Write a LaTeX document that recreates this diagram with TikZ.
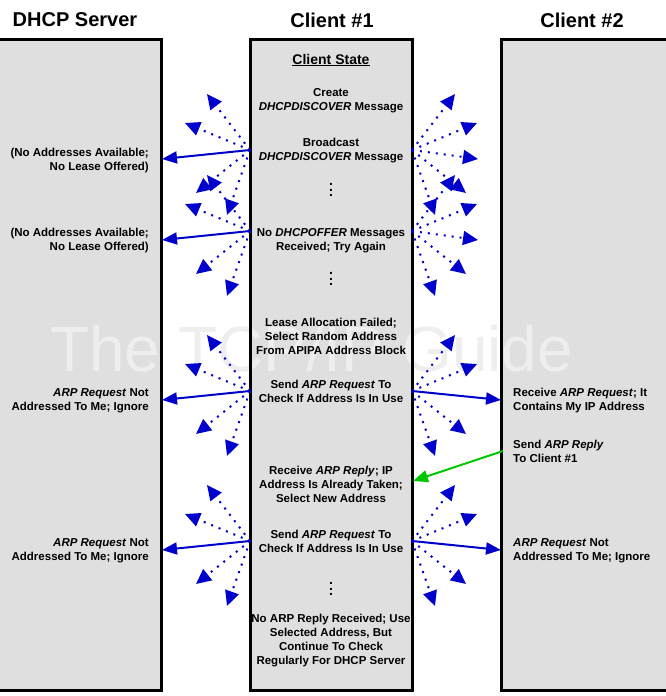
\documentclass[tikz,border=0pt]{standalone}
\usepackage{fontspec}
\setmainfont{Liberation Sans}
\usetikzlibrary{arrows.meta}
\definecolor{boxgray}{RGB}{223,223,223}
\definecolor{arrblue}{RGB}{0,0,204}
\definecolor{arrgreen}{RGB}{0,200,0}
\definecolor{wmark}{RGB}{238,238,238}
\newcommand\vdotsx{{\fontsize{14}{14}\selectfont\vbox{\baselineskip5.5pt\lineskiplimit-10pt\hbox{.}\hbox{.}\hbox{.}}}}
\begin{document}
\begin{tikzpicture}[x=1pt,y=-1pt,
  colfill/.style={fill=boxgray,inner sep=0,minimum height=650pt},
  boxline/.style={draw=black,line width=3pt},
  hdr/.style={font=\bfseries\fontsize{20}{24}\selectfont,inner sep=0},
  txt/.style={font=\bfseries\fontsize{11.5}{14}\selectfont,inner sep=0,align=center},
  srv/.style={txt,align=right,anchor=east},
  cltwo/.style={txt,align=left,anchor=west},
  solidarr/.style={draw=arrblue,line width=2pt,-{Triangle[length=15pt,width=12pt]}},
  dotarr/.style={draw=arrblue,line width=2pt,dash pattern=on 2pt off 6pt,-{Triangle[length=15pt,width=14pt]}},
  greenarr/.style={draw=arrgreen,line width=2pt,-{Triangle[length=15pt,width=12pt]}},
]
\useasboundingbox (0,0) rectangle (666,696);
\fill[white] (0,0) rectangle (666,696);
% columns
\node[colfill,minimum width=166pt] (srvbox) at (78,365) {};
\node[colfill,minimum width=161pt] (clonebox) at (331.5,365) {};
\node[colfill,minimum width=169pt] (cltwobox) at (586.5,365) {};
% watermark
\node[anchor=base west,inner sep=0,font=\fontsize{64}{64}\selectfont,text=wmark] (wm) at (50,371) {The TCP/IP Guide};
% borders
\draw[boxline] (srvbox.north west) rectangle (srvbox.south east);
\draw[boxline] (clonebox.north west) rectangle (clonebox.south east);
\draw[boxline] (cltwobox.north west) rectangle (cltwobox.south east);
% headers
\node[hdr] (hsrv) at (75,20) {DHCP Server};
\node[hdr] (hcone) at (332,20) {Client \#1};
\node[hdr] (hctwo) at (582,20) {Client \#2};
% client 1 states
\node[txt,font=\bfseries\fontsize{14}{16}\selectfont] (cs) at (331,60) {\underline{Client State}};
\node[txt] (t1) at (331,101) {Create\\\textit{DHCPDISCOVER} Message};
\node[txt] (t2) at (331,151) {Broadcast\\\textit{DHCPDISCOVER} Message};
\node[txt] (d1) at (331,190) {\vdotsx};
\node[txt] (t3) at (331,241) {No \textit{DHCPOFFER} Messages\\Received; Try Again};
\node[txt] (d2) at (331,279) {\vdotsx};
\node[txt] (t4) at (331,336) {Lease Allocation Failed;\\Select Random Address\\From APIPA Address Block};
\node[txt] (t5) at (331,391) {Send \textit{ARP Request} To\\Check If Address Is In Use};
\node[txt] (t6) at (331,484) {Receive \textit{ARP Reply}; IP\\Address Is Already Taken;\\Select New Address};
\node[txt] (t7) at (331,541) {Send \textit{ARP Request} To\\Check If Address Is In Use};
\node[txt] (d3) at (331,589) {\vdotsx};
\node[txt] (t8) at (331,641) {No ARP Reply Received; Use\\Selected Address, But\\Continue To Check\\Regularly For DHCP Server};
% server
\node[srv] (sv1) at (149,161) {(No Addresses Available;\\No Lease Offered)};
\node[srv] (sv2) at (149,241) {(No Addresses Available;\\No Lease Offered)};
\node[srv] (sv3) at (149,401) {\textit{ARP Request} Not\\Addressed To Me; Ignore};
\node[srv] (sv4) at (149,551) {\textit{ARP Request} Not\\Addressed To Me; Ignore};
% client 2
\node[cltwo] (ca) at (513,401) {Receive \textit{ARP Request}; It\\Contains My IP Address};
\node[cltwo] (cb) at (513,451) {Send \textit{ARP Reply}\\To Client \#1};
\node[cltwo] (cc) at (513,551) {\textit{ARP Request} Not\\Addressed To Me; Ignore};
% burst origins
\coordinate (o1L) at (250,150); \coordinate (o1R) at (412,150);
\coordinate (o2L) at (250,231); \coordinate (o2R) at (412,231);
\coordinate (o3L) at (250,391); \coordinate (o3R) at (412,391);
\coordinate (o4L) at (250,541); \coordinate (o4R) at (412,541);
% fans
\foreach \k in {1,2,3,4}{
  \path (o\k L) ++(-43,-56) coordinate (f\k La)
        (o\k L) ++(-65,-27) coordinate (f\k Lb)
        (o\k L) ++(-54,43) coordinate (f\k Lc)
        (o\k L) ++(-23,65) coordinate (f\k Ld)
        (o\k L) ++(-88,9) coordinate (s\k L)
        (o\k R) ++(43,-56) coordinate (f\k Ra)
        (o\k R) ++(65,-27) coordinate (f\k Rb)
        (o\k R) ++(54,43) coordinate (f\k Rc)
        (o\k R) ++(23,65) coordinate (f\k Rd);
  \draw[dotarr] (o\k L) -- (f\k La);
  \draw[dotarr] (o\k L) -- (f\k Lb);
  \draw[dotarr] (o\k L) -- (f\k Lc);
  \draw[dotarr] (o\k L) -- (f\k Ld);
  \draw[solidarr] (o\k L) -- (s\k L);
  \draw[dotarr] (o\k R) -- (f\k Ra);
  \draw[dotarr] (o\k R) -- (f\k Rb);
  \draw[dotarr] (o\k R) -- (f\k Rc);
  \draw[dotarr] (o\k R) -- (f\k Rd);
}
\foreach \k in {1,2}{
  \path (o\k R) ++(66,9) coordinate (m\k R);
  \draw[dotarr] (o\k R) -- (m\k R);
}
\foreach \k in {3,4}{
  \path (o\k R) ++(89,9) coordinate (s\k R);
  \draw[solidarr] (o\k R) -- (s\k R);
}
% green reply
\coordinate (gs) at (503,451);
\coordinate (ge) at (413,481);
\draw[greenarr] (gs) -- (ge);
\end{tikzpicture}
\end{document}
